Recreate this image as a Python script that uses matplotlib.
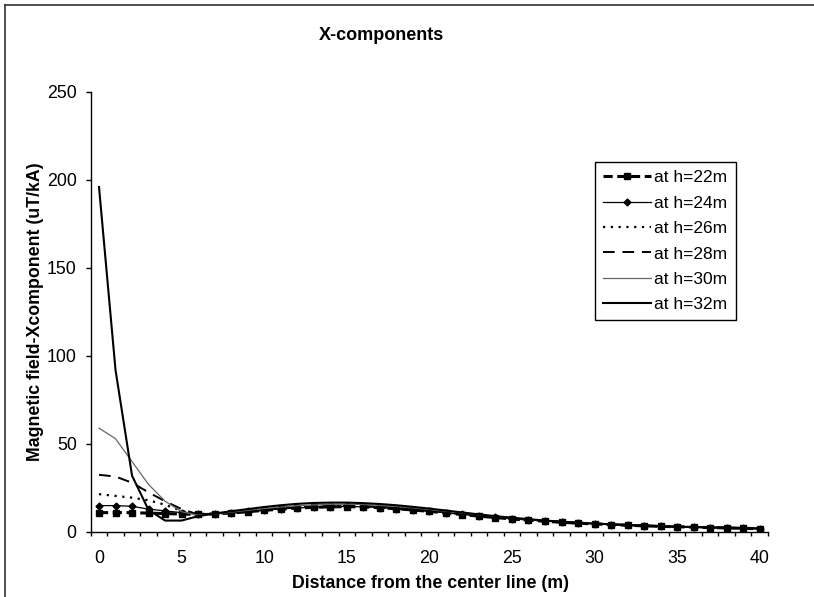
import numpy as np
import matplotlib
matplotlib.use('Agg')
from matplotlib import pyplot as plt
from matplotlib.lines import Line2D
from matplotlib.ticker import MultipleLocator

plt.rcParams['font.family'] = ['Liberation Sans', 'DejaVu Sans']

distance = np.arange(0, 41)
labels = ['at h=22m', 'at h=24m', 'at h=26m', 'at h=28m', 'at h=30m', 'at h=32m']

h22 = [11.0, 11.0, 11.0, 10.7, 10.5, 10.2, 10.0, 10.3, 10.8, 11.5, 12.3, 13.0, 13.6, 14.0, 14.3, 14.4,
       14.2, 13.8, 13.2, 12.5, 11.7, 10.8, 9.9, 9.0, 8.2, 7.4, 6.7, 6.1, 5.5, 5.0, 4.6, 4.2, 3.8, 3.5,
       3.2, 3.0, 2.7, 2.5, 2.3, 2.1, 1.9]
h24 = [15.0, 15.0, 14.6, 13.0, 12.0, 11.0, 10.3, 10.5, 11.0, 11.7, 12.4, 13.1, 13.7, 14.1, 14.4, 14.5,
       14.3, 13.9, 13.3, 12.6, 11.8, 10.9, 10.0, 9.1, 8.3, 7.5, 6.8, 6.2, 5.6, 5.1, 4.6, 4.2, 3.9, 3.5,
       3.2, 3.0, 2.7, 2.5, 2.3, 2.1, 1.9]
h26 = [21.5, 20.5, 19.5, 18.0, 15.5, 12.0, 10.0, 10.4, 11.0, 11.8, 12.6, 13.3, 13.9, 14.3, 14.6, 14.7,
       14.5, 14.1, 13.5, 12.8, 12.0, 11.1, 10.2, 9.3, 8.4, 7.6, 6.9, 6.2, 5.6, 5.1, 4.7, 4.3, 3.9, 3.6,
       3.3, 3.0, 2.8, 2.5, 2.3, 2.1, 1.9]
h28 = [32.5, 31.5, 28.0, 22.5, 17.5, 13.0, 10.0, 10.3, 11.0, 11.9, 12.8, 13.5, 14.2, 14.6, 14.9, 15.0,
       14.8, 14.4, 13.8, 13.0, 12.2, 11.3, 10.4, 9.4, 8.6, 7.8, 7.0, 6.3, 5.7, 5.2, 4.8, 4.3, 4.0, 3.6,
       3.3, 3.0, 2.8, 2.6, 2.4, 2.2, 2.0]
h30 = [59.0, 53.0, 40.0, 27.0, 17.5, 11.5, 9.5, 10.3, 11.3, 12.3, 13.3, 14.2, 14.9, 15.4, 15.7, 15.8,
       15.6, 15.1, 14.5, 13.7, 12.8, 11.8, 10.8, 9.8, 8.9, 8.0, 7.2, 6.5, 5.9, 5.3, 4.9, 4.4, 4.0, 3.7,
       3.4, 3.1, 2.8, 2.6, 2.4, 2.2, 2.0]
h32 = [196.0, 92.0, 32.0, 12.5, 6.5, 6.5, 9.0, 10.5, 11.8, 13.0, 14.2, 15.2, 16.0, 16.5, 16.7, 16.7,
       16.4, 15.9, 15.2, 14.3, 13.3, 12.2, 11.1, 10.0, 9.0, 8.1, 7.3, 6.5, 5.9, 5.3, 4.8, 4.4, 4.0, 3.6,
       3.3, 3.0, 2.8, 2.6, 2.4, 2.2, 2.0]

fig = plt.figure(figsize=(8.14, 5.97), dpi=100)
ax = fig.add_axes([90.75 / 814, 1 - 532 / 597, (768 - 90.75) / 814, 440 / 597])

ax.plot(distance, h22, color='black', lw=2.2, ls=(0, (3, 1.5)), marker='s', ms=4, label=labels[0])
ax.plot(distance, h24, color='black', lw=0.9, marker='D', ms=3.5, label=labels[1])
ax.plot(distance, h26, color='black', lw=1.6, ls=(0, (1, 2.5)), label=labels[2])
ax.plot(distance, h28, color='black', lw=1.4, ls=(0, (6, 4)), label=labels[3])
ax.plot(distance, h30, color='#666666', lw=0.9, label=labels[4])
ax.plot(distance, h32, color='black', lw=1.5, label=labels[5])

ax.set_xlim(-0.5, 40.5)
ax.set_ylim(0, 250)
ax.set_xticks(np.arange(0, 41, 5))
ax.xaxis.set_minor_locator(MultipleLocator(1, offset=0.5))
ax.tick_params(axis='x', which='major', length=0, pad=13, labelsize=12.8)
ax.tick_params(axis='x', which='minor', length=2.9, width=1, direction='out')
ax.set_yticks(np.arange(0, 251, 50))
ax.tick_params(axis='y', length=3.6, width=1, pad=6.5, labelsize=12.8)

for side in ['top', 'right']:
    ax.spines[side].set_visible(False)
for side in ['left', 'bottom']:
    ax.spines[side].set_linewidth(1)

ax.set_xlabel('Distance from the center line (m)', fontsize=12.8, fontweight='bold')
ax.xaxis.set_label_coords(0.501, -0.118)
ax.xaxis.label.set_va('center')
ax.set_ylabel('Magnetic field-Xcomponent (uT/kA)', fontsize=12.8, fontweight='bold')
ax.yaxis.set_label_coords(-0.0823, 0.5)
ax.yaxis.label.set_va('center')

fig.text(381 / 814, 1 - 36 / 597, 'X-components', ha='center', va='center', fontsize=13, fontweight='bold')

leg = ax.legend(loc='upper left', bbox_to_anchor=(595 / 814, 1 - 162 / 597), bbox_transform=fig.transFigure,
                borderaxespad=0, fontsize=12.5, frameon=True, fancybox=False, framealpha=1, numpoints=1,
                labelspacing=0.59, handlelength=2.75, handletextpad=0.2, borderpad=0.47)
leg.get_frame().set_edgecolor('black')
leg.get_frame().set_linewidth(1)

# outer chart border (top and left edges visible)
fig.add_artist(Line2D([4.5 / 814, 4.5 / 814], [0, 1 - 5 / 597], transform=fig.transFigure, color='#333333', lw=1.2))
fig.add_artist(Line2D([4.5 / 814, 1], [1 - 5 / 597, 1 - 5 / 597], transform=fig.transFigure, color='#333333', lw=1.2))

fig.savefig('out.png', dpi=100)
